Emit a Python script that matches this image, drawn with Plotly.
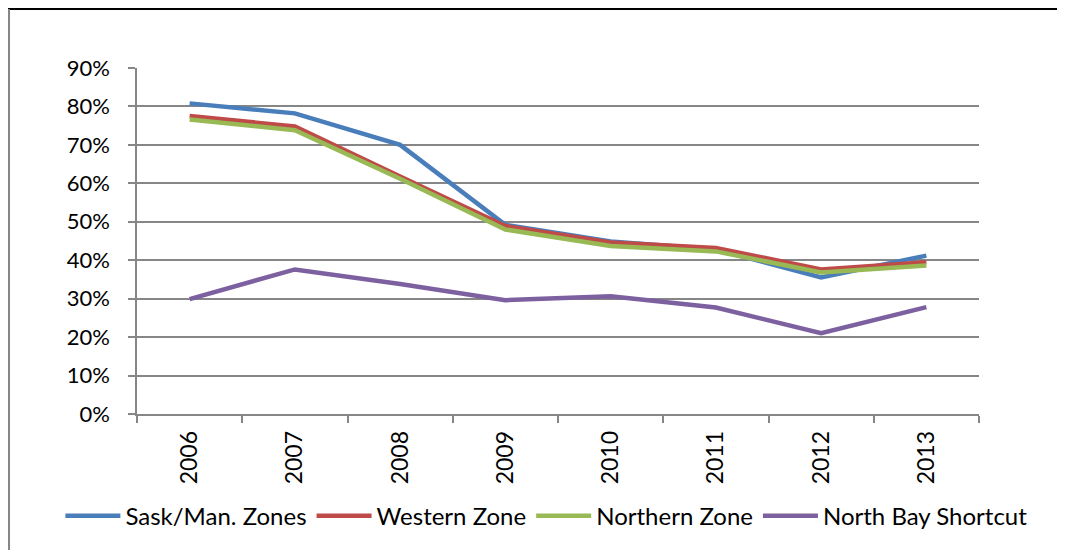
import plotly.graph_objects as go

years = ["2006", "2007", "2008", "2009", "2010", "2011", "2012", "2013"]
sask_man = [0.808, 0.782, 0.700, 0.492, 0.449, 0.428, 0.355, 0.412]
western = [0.775, 0.748, 0.618, 0.489, 0.446, 0.432, 0.376, 0.395]
northern = [0.766, 0.738, 0.612, 0.480, 0.437, 0.423, 0.368, 0.386]
north_bay = [0.299, 0.376, 0.338, 0.296, 0.306, 0.277, 0.210, 0.278]

series = [
    ("Sask/Man. Zones", sask_man, "#4A7EBB"),
    ("Western Zone", western, "#BE4B48"),
    ("Northern Zone", northern, "#98B954"),
    ("North Bay Shortcut", north_bay, "#7D60A0"),
]

fig = go.Figure()
for name, vals, color in series:
    fig.add_trace(go.Scatter(x=years, y=vals, name=name, mode="lines",
                             line=dict(color=color, width=4.5)))

font_family = "Lato, 'Open Sans', sans-serif"
fig.update_layout(
    width=1057, height=542,
    margin=dict(l=129, r=86, t=60, b=136),
    plot_bgcolor="white", paper_bgcolor="white",
    font=dict(family=font_family, size=22, color="black"),
    showlegend=True,
    legend=dict(orientation="h", x=-0.091, xanchor="left", y=-0.295, yanchor="middle",
                font=dict(size=24), itemwidth=55, tracegroupgap=0,
                bgcolor="rgba(0,0,0,0)"),
    xaxis=dict(type="category", tickangle=-90, showgrid=False,
               tickfont=dict(size=23),
               showline=True, linecolor="#868686", linewidth=1.5,
               ticks="outside", ticklen=7, tickcolor="#868686", tickwidth=1.5,
               tickson="boundaries", range=[-0.5, 7.5], ticklabelstandoff=6),
    yaxis=dict(range=[0, 0.9], dtick=0.1, tickformat=".0%",
               tickfont=dict(size=22), ticklabelstandoff=14,
               showgrid=True, gridcolor="#868686", gridwidth=1.5,
               showline=True, linecolor="#868686", linewidth=1.5,
               ticks="outside", ticklen=7, tickcolor="#868686", tickwidth=1.5,
               zeroline=False),
    shapes=[
        dict(type="line", xref="paper", yref="paper", x0=-0.16, x1=1.2,
             y0=1.1705, y1=1.1705, line=dict(color="black", width=2)),
        dict(type="line", xref="paper", yref="paper", x0=-0.152, x1=-0.152,
             y0=1.1705, y1=-0.5, line=dict(color="#868686", width=2)),
    ],
)

fig.write_html("out.html")
